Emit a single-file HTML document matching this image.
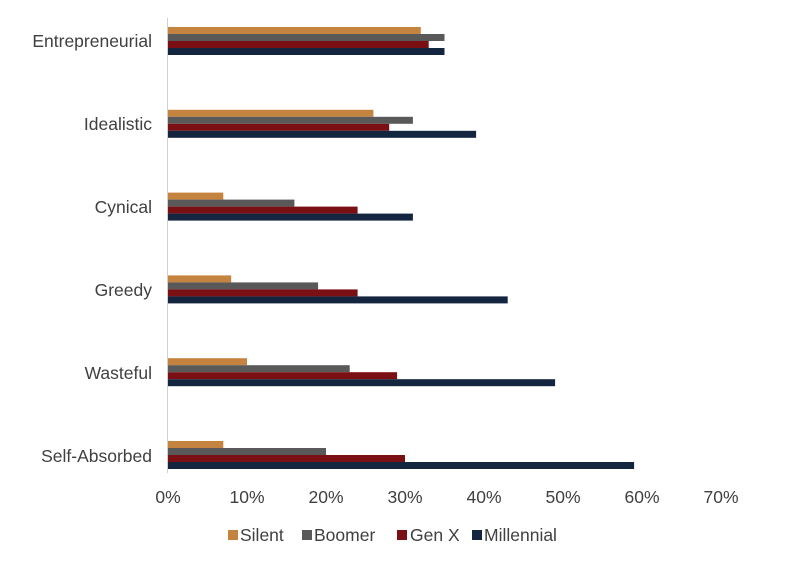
<!DOCTYPE html><html><head><style>body{margin:0;background:#fff}</style></head><body>
<svg width="800" height="566" xmlns="http://www.w3.org/2000/svg" font-family="Liberation Sans, sans-serif" font-size="17.5" fill="#404040">
<line x1="167.5" y1="18" x2="167.5" y2="473" stroke="#d0d0d0" stroke-width="1"/>
<g id="bars"></g>
<g text-anchor="end">
<text x="152" y="47">Entrepreneurial</text>
<text x="152" y="130">Idealistic</text>
<text x="152" y="213">Cynical</text>
<text x="152" y="296">Greedy</text>
<text x="152" y="379">Wasteful</text>
<text x="152" y="462">Self-Absorbed</text>
</g>
<g text-anchor="middle">
<text x="168" y="503">0%</text><text x="247" y="503">10%</text><text x="326" y="503">20%</text><text x="405" y="503">30%</text><text x="484" y="503">40%</text><text x="563" y="503">50%</text><text x="642" y="503">60%</text><text x="721" y="503">70%</text>
</g>
<rect x="228" y="530" width="10" height="10" fill="#C4843F"/><text x="240" y="541">Silent</text>
<rect x="302" y="530" width="10" height="10" fill="#595959"/><text x="314" y="541">Boomer</text>
<rect x="397" y="530" width="10" height="10" fill="#7B1014"/><text x="410" y="541">Gen X</text>
<rect x="472" y="530" width="10" height="10" fill="#14253F"/><text x="484" y="541">Millennial</text>
</svg>
<script>
const d=[[32,35,33,35],[26,31,28,39],[7,16,24,31],[8,19,24,43],[10,23,29,49],[7,20,30,59]];
const c=["#C4843F","#595959","#7B1014","#14253F"];
let s="";
d.forEach((r,i)=>{const t=27+i*82.8;r.forEach((v,j)=>{s+=`<rect x="168" y="${t+j*7}" width="${v*7.9}" height="7" fill="${c[j]}"/>`;});});
document.getElementById("bars").innerHTML=s;
</script>
</body></html>
